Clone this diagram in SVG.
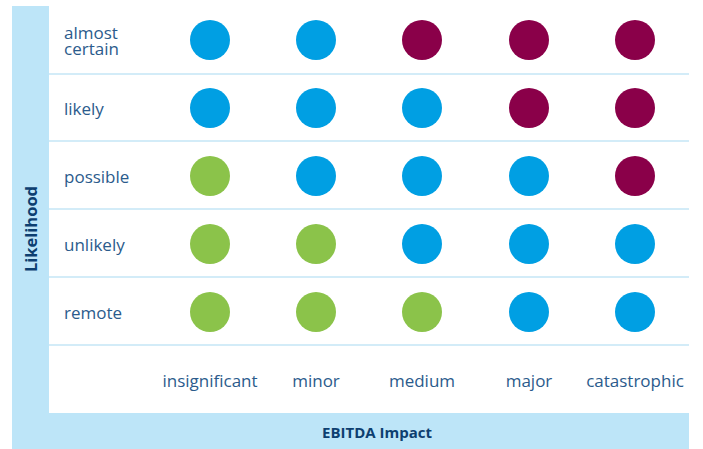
<svg xmlns="http://www.w3.org/2000/svg" width="703" height="449" viewBox="0 0 703 449">
<style>
.band{fill:#bde5f8}
.grid{stroke:#d3ecf8;stroke-width:2}
.lbl{font-family:"Open Sans","Liberation Sans",sans-serif;font-size:17px;fill:#2b5b8c}
.col{text-anchor:middle}
.axis{font-family:"Open Sans","Liberation Sans",sans-serif;font-weight:bold;fill:#0d3f70;text-anchor:middle}
.b{fill:#009fe3}.g{fill:#8bc34a}.m{fill:#8a0049}
</style>
<rect width="703" height="449" fill="#ffffff"/>
<g id="frame">
<rect class="band" x="12" y="6" width="37" height="443"/>
<rect class="band" x="12" y="413" width="677" height="36"/>
</g>
<g id="grid">
<line class="grid" x1="49" y1="74" x2="689" y2="74"/>
<line class="grid" x1="49" y1="141" x2="689" y2="141"/>
<line class="grid" x1="49" y1="209" x2="689" y2="209"/>
<line class="grid" x1="49" y1="277" x2="689" y2="277"/>
<line class="grid" x1="49" y1="345" x2="689" y2="345"/>
</g>
<g id="axis-labels">
<text class="axis" font-size="16.5" transform="translate(37,229) rotate(-90)">Likelihood</text>
<text class="axis" font-size="15" x="377" y="438">EBITDA Impact</text>
</g>
<g id="row-labels">
<text class="lbl" x="64" y="39">almost<tspan x="64" y="55">certain</tspan></text>
<text class="lbl" x="64" y="115">likely</text>
<text class="lbl" x="64" y="183">possible</text>
<text class="lbl" x="64" y="251">unlikely</text>
<text class="lbl" x="64" y="319">remote</text>
</g>
<g id="col-labels">
<text class="lbl col" x="210" y="387">insignificant</text>
<text class="lbl col" x="316" y="387">minor</text>
<text class="lbl col" x="422" y="387">medium</text>
<text class="lbl col" x="529" y="387">major</text>
<text class="lbl col" x="635" y="387">catastrophic</text>
</g>
<g id="cells">
<circle class="b" cx="210" cy="40" r="20"/><circle class="b" cx="316" cy="40" r="20"/><circle class="m" cx="422" cy="40" r="20"/><circle class="m" cx="529" cy="40" r="20"/><circle class="m" cx="635" cy="40" r="20"/>
<circle class="b" cx="210" cy="108" r="20"/><circle class="b" cx="316" cy="108" r="20"/><circle class="b" cx="422" cy="108" r="20"/><circle class="m" cx="529" cy="108" r="20"/><circle class="m" cx="635" cy="108" r="20"/>
<circle class="g" cx="210" cy="176" r="20"/><circle class="b" cx="316" cy="176" r="20"/><circle class="b" cx="422" cy="176" r="20"/><circle class="b" cx="529" cy="176" r="20"/><circle class="m" cx="635" cy="176" r="20"/>
<circle class="g" cx="210" cy="244" r="20"/><circle class="g" cx="316" cy="244" r="20"/><circle class="b" cx="422" cy="244" r="20"/><circle class="b" cx="529" cy="244" r="20"/><circle class="b" cx="635" cy="244" r="20"/>
<circle class="g" cx="210" cy="312" r="20"/><circle class="g" cx="316" cy="312" r="20"/><circle class="g" cx="422" cy="312" r="20"/><circle class="b" cx="529" cy="312" r="20"/><circle class="b" cx="635" cy="312" r="20"/>
</g>
</svg>
